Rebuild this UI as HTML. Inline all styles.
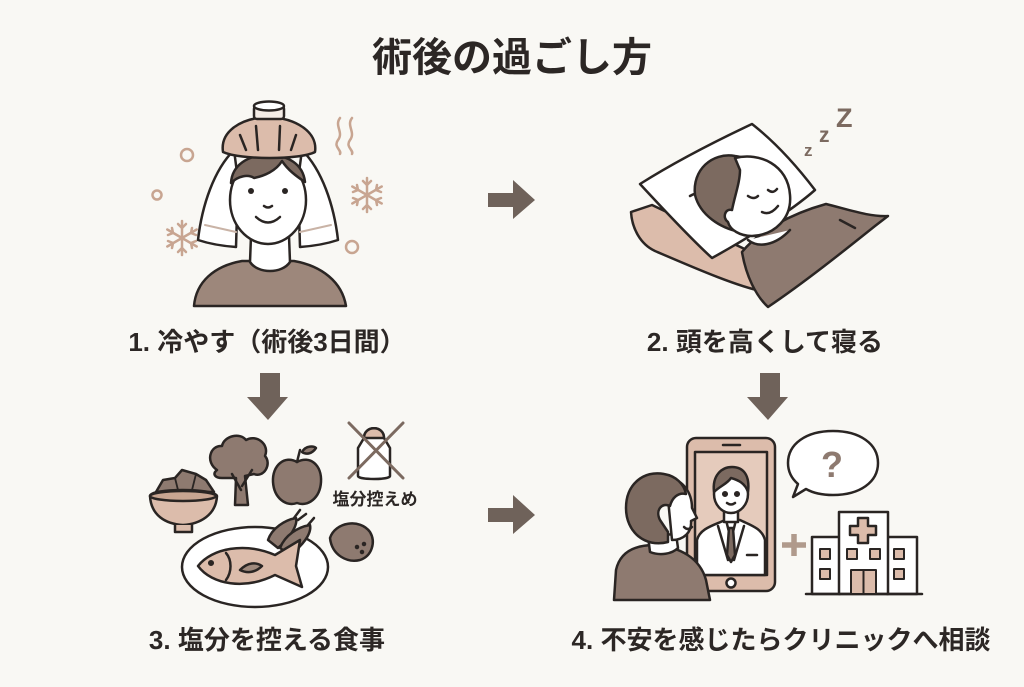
<!DOCTYPE html>
<html><head><meta charset="utf-8"><style>
html,body{margin:0;padding:0;background:#f9f8f4;}
svg{display:block;}
text{font-family:"Liberation Sans","Noto Sans CJK JP",sans-serif;font-weight:bold;fill:#2c2725;}
</style></head><body>
<svg width="1024" height="687" viewBox="0 0 1024 687" xmlns="http://www.w3.org/2000/svg">
<rect width="1024" height="687" fill="#f9f8f4"/>
<text x="512" y="71" font-size="40" text-anchor="middle">術後の過ごし方</text>

<!-- arrows -->
<g fill="#6f625a">
<path d="M488,193 H513 V180 L535,200 L513,219 V207 H488 Z"/>
<path d="M488,508 H513 V495 L535,515 L513,534 V522 H488 Z"/>
<path d="M260,373 H280 V397 H288 L268,420 L247,397 H260 Z"/>
<path d="M760,373 H780 V397 H788 L768,420 L747,397 H760 Z"/>
</g>

<!-- Panel 1 -->
<g stroke="#2a2523" stroke-width="2.5" stroke-linejoin="round" stroke-linecap="round">
  <g fill="none" stroke="#c8a591" stroke-width="2.5">
    <circle cx="187" cy="155" r="6"/>
    <circle cx="157" cy="195" r="4.5"/>
    <circle cx="352" cy="247" r="6"/>
    <path d="M340,118 C334,126 344,132 338,140 C333,147 342,150 340,154"/>
    <path d="M352,118 C346,126 356,132 350,140 C345,147 354,150 352,154"/>
    <g transform="translate(367,195)">
      <path d="M0,-17 V17 M-14.7,-8.5 L14.7,8.5 M-14.7,8.5 L14.7,-8.5"/>
      <path d="M-4,-14 L0,-10 L4,-14 M-4,14 L0,10 L4,14 M-14,-3 L-9,-5 L-10,-10 M14,3 L9,5 L10,10 M14,-3 L9,-5 L10,-10 M-14,3 L-9,5 L-10,10"/>
    </g>
    <g transform="translate(182,238)">
      <path d="M0,-17 V17 M-14.7,-8.5 L14.7,8.5 M-14.7,8.5 L14.7,-8.5"/>
      <path d="M-4,-14 L0,-10 L4,-14 M-4,14 L0,10 L4,14 M-14,-3 L-9,-5 L-10,-10 M14,3 L9,5 L10,10 M14,-3 L9,-5 L10,-10 M-14,3 L-9,5 L-10,10"/>
    </g>
  </g>
  <path d="M194,306 C196,282 214,266 242,261 L294,261 C322,266 342,282 346,306 Z" fill="#9d877b"/>
  <path d="M251,236 L250,262 C258,274 282,274 290,262 L289,236 Z" fill="#fff"/>
  <path d="M234,150 C214,170 202,205 198,240 C210,244 222,246 236,247 L238,180 Z" fill="#fff"/>
  <path d="M302,150 C322,170 334,205 338,240 C326,244 314,246 300,247 L298,180 Z" fill="#fff"/>
  <path d="M205,225 L236,232 M331,225 L300,232" stroke="#c9b3a6" stroke-width="2" fill="none"/>
  <ellipse cx="268" cy="200" rx="38" ry="44" fill="#fff"/>
  <path d="M231,183 C232,165 248,155 268,155 C288,155 303,164 305,182 C296,176 288,170 282,161 C276,171 264,176 254,178 C248,174 238,176 231,183 Z" fill="#7c6a60"/>
  <circle cx="251" cy="191" r="3" fill="#2a2523" stroke="none"/>
  <circle cx="285" cy="191" r="3" fill="#2a2523" stroke="none"/>
  <path d="M264,206 Q268,209 272,206" fill="none"/>
  <path d="M256,217 Q268,228 280,217" fill="none"/>
  <path d="M223,152 C220,132 240,118 268,117 C296,118 318,132 315,152 C300,160 240,160 223,152 Z" fill="#dcbcab"/>
  <path d="M240,135 L246,150 M256,126 L258,150 M280,126 L279,150 M296,135 L291,150" fill="none"/>
  <rect x="254" y="106" width="30" height="13" rx="3" fill="#f4ece6"/>
  <ellipse cx="269" cy="106" rx="15" ry="4.5" fill="#fff"/>
</g>
<text x="267" y="351" font-size="26" text-anchor="middle">1. 冷やす（術後3日間）</text>

<!-- Panel 2 -->
<g stroke="#2a2523" stroke-width="2.5" stroke-linejoin="round" stroke-linecap="round">
  <path d="M631,212 L652,205 L772,262 L766,292 C740,288 690,266 655,251 C640,244 632,228 631,212 Z" fill="#dcbcab"/>
  <path d="M640,184 C678,160 718,140 752,124 C775,142 796,165 815,190 C790,212 745,240 712,258 C690,238 664,210 640,184 Z" fill="#fff"/>
  <path d="M690,196 C700,190 710,194 712,200" fill="none"/>
  <path d="M742,252 C758,232 790,214 826,204 C850,210 870,217 888,216 L875,226 C845,250 805,282 768,307 C756,296 746,276 742,252 Z" fill="#8e7a70"/>
  <path d="M840,220 L855,228" fill="none"/>
  <path d="M740,232 C720,228 700,215 695,195 C692,170 712,152 735,156 C752,158 760,170 757,180 Z" fill="#7c6a60"/>
  <path d="M735,158 C760,152 788,165 790,195 C792,218 775,235 752,236 C740,236 730,230 728,222 C722,218 725,208 732,210 C735,195 740,182 740,170 Z" fill="#fff"/>
  <path d="M748,196 Q754,200 758,196 M768,190 Q773,194 777,189" fill="none"/>
  <path d="M762,212 Q770,216 778,206" fill="none"/>
  <path d="M748,240 C758,248 775,246 790,230" fill="#fff"/>
</g>
<text x="804" y="156" font-size="17" style="fill:#7c6a60">z</text>
<text x="819" y="142" font-size="21" style="fill:#7c6a60">z</text>
<text x="836" y="127" font-size="27" style="fill:#7c6a60">Z</text>
<text x="765" y="351" font-size="26" text-anchor="middle">2. 頭を高くして寝る</text>

<!-- Panel 3 -->
<g stroke="#2a2523" stroke-width="2.5" stroke-linejoin="round" stroke-linecap="round">
  <path d="M156,492 L163,480 L175,478 L182,470 L196,474 L206,480 L214,492 Z" fill="#8e7a70"/>
  <path d="M175,478 L178,490 M196,474 L192,490" fill="none" stroke-width="1.8"/>
  <path d="M150,496 C150,488 215,488 217,496 C216,515 200,524 183,525 C165,524 151,515 150,496 Z" fill="#dcbcab"/>
  <ellipse cx="183" cy="496" rx="33" ry="5" fill="#c8a591"/>
  <path d="M175,525 L175,532 L192,532 L192,525" fill="#dcbcab"/>
  <path d="M217,470 C205,462 210,445 222,446 C224,436 240,432 246,440 C256,434 270,444 265,456 C272,464 264,478 254,474 L245,476 L248,505 L235,505 L236,478 L222,478 C215,478 212,474 217,470 Z" fill="#8e7a70"/>
  <path d="M241,490 L232,474 M242,486 L252,470" fill="none"/>
  <path d="M297,462 C310,455 322,465 321,482 C320,498 308,507 297,503 C286,507 274,498 273,482 C272,465 285,455 297,462 Z" fill="#8e7a70"/>
  <path d="M297,462 L300,450" fill="none"/>
  <path d="M302,452 C306,445 314,446 316,448 C312,454 306,455 302,452 Z" fill="#8e7a70"/>
  <path d="M364,438 C364,425 384,425 384,438 L390,448 L390,476 C390,480 358,480 358,476 L358,448 Z" fill="#fff"/>
  <path d="M364,438 C364,425 384,425 384,438 Z" fill="#dcbcab"/>
  <path d="M349,423 L403,478 M403,423 L349,478" stroke="#7c6a60" stroke-width="3"/>
  <ellipse cx="255" cy="567" rx="73" ry="40" fill="#fff"/>
  <path d="M268,540 C272,528 285,520 296,518 C298,525 290,538 278,548 Z" fill="#8e7a70"/>
  <path d="M280,548 C285,535 298,527 310,525 C312,534 302,546 290,555 Z" fill="#8e7a70"/>
  <path d="M294,518 L300,510 M298,520 L306,514 M308,525 L314,518" fill="none"/>
  <path d="M198,566 C212,548 245,542 275,555 L300,540 L296,566 L302,587 L275,575 C245,590 212,585 198,566 Z" fill="#dcbcab"/>
  <path d="M226,553 C232,560 232,572 226,580" fill="none"/>
  <path d="M240,570 C248,562 256,562 262,566 C256,572 248,574 240,570 Z" fill="#a08a7d"/>
  <circle cx="211" cy="563" r="1.8" fill="#2a2523"/>
  <path d="M330,538 C335,522 360,518 370,532 C376,542 372,556 360,560 C348,563 332,556 330,538 Z" fill="#8e7a70"/>
  <circle cx="357" cy="547" r="1" fill="#2a2523"/><circle cx="362" cy="552" r="1" fill="#2a2523"/><circle cx="364" cy="544" r="1" fill="#2a2523"/>
</g>
<text x="375" y="505" font-size="17" text-anchor="middle">塩分控えめ</text>
<text x="267" y="649" font-size="26" text-anchor="middle">3. 塩分を控える食事</text>

<!-- Panel 4 -->
<g stroke="#2a2523" stroke-width="2.5" stroke-linejoin="round" stroke-linecap="round">
  <path d="M833,431 C860,431 878,444 878,463 C878,482 860,495 833,495 C822,495 813,493 806,489 L793,497 L798,484 C791,478 788,471 788,463 C788,444 806,431 833,431 Z" fill="#fff"/>
  <rect x="687" y="438" width="88" height="153" rx="9" fill="#dcbcab"/>
  <rect x="695" y="452" width="72" height="123" fill="#e5cbbc"/>
  <path d="M723,445 L740,445" fill="none"/>
  <circle cx="731" cy="583" r="4.5" fill="#fff"/>
  <path d="M697,575 L697,540 C700,528 715,525 725,520 L740,520 C750,525 762,528 765,540 L765,575 Z" fill="#fff"/>
  <path d="M726,520 L731,540 L736,520" fill="#fff"/>
  <path d="M729,528 L733,528 L735,555 L731,562 L727,555 Z" fill="#7c6a60"/>
  <path d="M718,526 L728,560 M744,526 L734,560" fill="none"/>
  <path d="M747,555 L757,555" fill="none"/>
  <path d="M724,505 L724,522 L738,522 L738,505 Z" fill="#fff"/>
  <ellipse cx="731" cy="494" rx="17" ry="19" fill="#fff"/>
  <path d="M714,492 C712,475 722,467 732,467 C744,467 750,476 748,492 C745,483 738,480 731,478 C727,484 720,486 714,492 Z" fill="#7c6a60"/>
  <circle cx="725" cy="494" r="1.8" fill="#2a2523"/><circle cx="737" cy="494" r="1.8" fill="#2a2523"/>
  <path d="M727,503 Q731,506 735,503" fill="none"/>
  <!-- patient -->
  <path d="M614,600 L616,570 C620,552 635,545 655,545 C680,547 700,558 706,580 L710,600 Z" fill="#8e7a70"/>
  <path d="M648,536 L650,552 C660,556 672,554 678,548 L676,534 Z" fill="#fff"/>
  <path d="M666,478 C682,478 692,492 692,508 L697,518 L691,521 C692,532 684,540 672,540 Z" fill="#fff"/>
  <path d="M668,542 C645,548 626,532 626,508 C626,484 644,470 664,474 C676,476 684,484 686,494 C678,492 672,498 670,506 C662,502 655,510 660,520 L668,532 Z" fill="#7c6a60"/>
  <path d="M684,527 Q688,531 692,527" fill="none"/>
  <!-- plus -->
  <path d="M782,545 L806,545 M794,534 L794,556" stroke="#b09a8c" stroke-width="5.5" stroke-linecap="butt"/>
  <!-- hospital -->
  <rect x="812" y="537" width="28" height="57" fill="#fff"/>
  <rect x="887" y="537" width="30" height="57" fill="#fff"/>
  <rect x="839" y="512" width="49" height="82" fill="#fff"/>
  <path d="M806,594 L922,594" fill="none"/>
  <path d="M858,518 L868,518 L868,526 L876,526 L876,535 L868,535 L868,543 L858,543 L858,535 L850,535 L850,526 L858,526 Z" fill="#dcbcab"/>
  <g fill="#dcbcab" stroke-width="2">
    <rect x="820" y="549" width="10" height="10"/><rect x="820" y="569" width="10" height="10"/>
    <rect x="894" y="549" width="10" height="10"/><rect x="894" y="569" width="10" height="10"/>
    <rect x="847" y="549" width="10" height="10"/><rect x="870" y="549" width="10" height="10"/>
  </g>
  <rect x="851" y="570" width="25" height="24" fill="#dcbcab" stroke-width="2"/>
  <path d="M863.5,570 L863.5,594" fill="none" stroke-width="2"/>
</g>
<text x="832" y="477" font-size="36" text-anchor="middle" style="fill:#8e7a70">?</text>
<text x="781" y="649" font-size="26" text-anchor="middle">4. 不安を感じたらクリニックへ相談</text>
</svg>
</body></html>
